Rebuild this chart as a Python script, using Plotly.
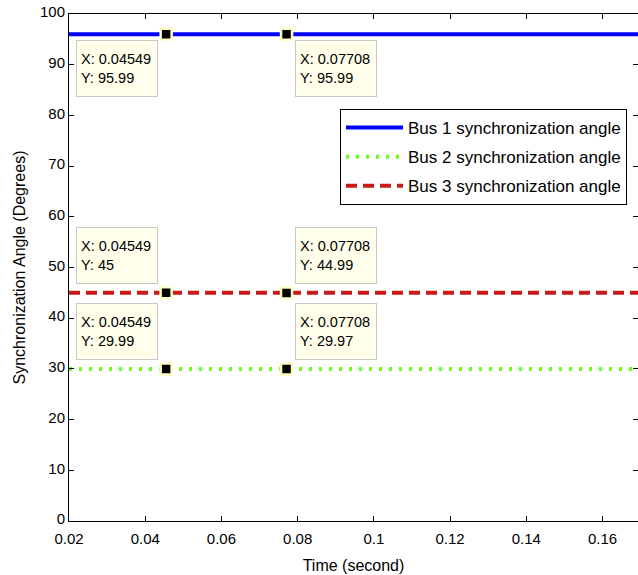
import plotly.graph_objects as go

# ---- data ----
time = [0.02, 0.04549, 0.07708, 0.1693]
bus1 = [95.99, 95.99, 95.99, 95.99]
bus2 = [30.0, 29.99, 29.97, 30.0]
bus3 = [45.0, 45.0, 44.99, 45.0]

tip_x = [0.04549, 0.07708]
tip_bus1 = [95.99, 95.99]
tip_bus2 = [29.99, 29.97]
tip_bus3 = [45, 44.99]

x_ticks = [0.02, 0.04, 0.06, 0.08, 0.1, 0.12, 0.14, 0.16]
x_ticktext = ["0.02", "0.04", "0.06", "0.08", "0.1", "0.12", "0.14", "0.16"]
y_ticks = [0, 10, 20, 30, 40, 50, 60, 70, 80, 90, 100]

names = ["Bus 1 synchronization angle", "Bus 2 synchronization angle", "Bus 3 synchronization angle"]

FONT = "Liberation Sans, Arial, sans-serif"

fig = go.Figure()
fig.add_trace(go.Scatter(x=time, y=bus1, mode="lines", name=names[0], legendgroup="g1",
                         line=dict(color="#0000FF", width=4)))
fig.add_trace(go.Scatter(x=time, y=bus2, mode="lines", name=names[1], legendgroup="g2",
                         line=dict(color="#66FF1A", width=4, dash="3px,7px")))
fig.add_trace(go.Scatter(x=time, y=bus3, mode="lines", name=names[2], legendgroup="g3",
                         line=dict(color="#CC1A1A", width=4, dash="11px,6px")))

# data tip markers
for ys in (tip_bus1, tip_bus2, tip_bus3):
    fig.add_trace(go.Scatter(x=tip_x, y=ys, mode="markers", showlegend=False,
                             marker=dict(symbol="square", size=11, color="black",
                                         line=dict(color="#FFFFC8", width=2.5))))

# data tip text boxes
def tip_text(xv, yv):
    return f"X: {xv}<br>Y: {yv:g}"

tip_style = dict(showarrow=False, align="left", valign="middle", bgcolor="#FFFFEB",
                 bordercolor="#C8C8C8", borderwidth=1, borderpad=4, width=72, height=47,
                 font=dict(family=FONT, size=14.5, color="black"))
for i, xv in enumerate(tip_x):
    left = i == 0
    xa = "right" if left else "left"
    xs = -8 if left else 8
    fig.add_annotation(x=xv, y=tip_bus1[i], text=tip_text(xv, tip_bus1[i]), xanchor=xa,
                       yanchor="top", xshift=xs, yshift=-6, **tip_style)
    fig.add_annotation(x=xv, y=tip_bus3[i], text=tip_text(xv, tip_bus3[i]), xanchor=xa,
                       yanchor="bottom", xshift=xs, yshift=9, **tip_style)
    fig.add_annotation(x=xv, y=tip_bus2[i], text=tip_text(xv, tip_bus2[i]), xanchor=xa,
                       yanchor="bottom", xshift=xs, yshift=9, **tip_style)

axis_common = dict(showline=True, linecolor="black", linewidth=1, mirror="ticks",
                   ticks="inside", ticklen=5, tickcolor="black", showgrid=False,
                   zeroline=False, tickfont=dict(family=FONT, size=15, color="black"))

fig.update_xaxes(range=[0.02, 0.1693], tickvals=x_ticks, ticktext=x_ticktext,
                 ticklabelstandoff=4,
                 title=dict(text="Time (second)", font=dict(family=FONT, size=16, color="black"), standoff=13),
                 **axis_common)
fig.update_yaxes(range=[0, 100], tickvals=y_ticks, ticklabelshift=-2,
                 title=dict(text="Synchronization Angle (Degrees)", font=dict(family=FONT, size=16, color="black"), standoff=10),
                 **axis_common)

fig.update_layout(
    width=638, height=575,
    margin=dict(l=69, r=0, t=14, b=54),
    plot_bgcolor="white", paper_bgcolor="white",
    showlegend=True,
    legend=dict(x=0.9807, y=0.8126, xanchor="right", yanchor="top",
                bordercolor="black", borderwidth=1, bgcolor="white",
                font=dict(family=FONT, size=17, color="black"),
                traceorder="grouped", tracegroupgap=4, itemwidth=57),
)

fig.write_html("out.html")
